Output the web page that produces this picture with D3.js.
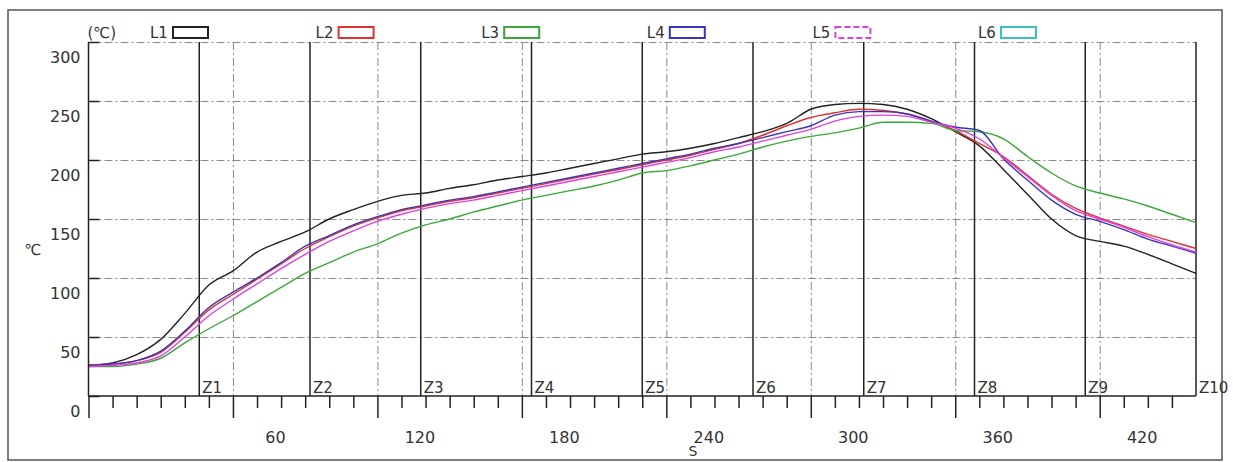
<!DOCTYPE html>
<html>
<head>
<meta charset="utf-8">
<script src="https://cdn.jsdelivr.net/npm/d3@7"></script>
<style>
    body { margin: 0; background: #fff; }
    text { font-family: "DejaVu Sans", sans-serif; fill: #333; }
    .grid line { stroke: #8a8a8a; stroke-width: 1; stroke-dasharray: 8,3,2,3; }
    .grid path { display: none; }
</style>
</head>
<body>
<svg id="chart"></svg>
<script>
// sample times (s)
var seconds = [0, 10, 20, 30, 40, 50, 60, 70, 80, 90, 100, 110, 120, 130, 140, 150, 160, 170, 180, 190,
    200, 210, 220, 230, 240, 250, 260, 270, 280, 290, 300, 310, 320, 330, 340, 350, 360, 370, 380, 390,
    400, 410, 420, 430, 440, 450, 460];

// temperatures (C) per probe
var l1Values = [26, 28, 35, 48, 70, 94, 106, 122, 131, 139, 150, 158, 165, 170, 172, 176, 179, 183, 186, 189,
    193, 197, 201, 205, 207, 210, 214, 219, 224, 231, 243, 247, 248, 247, 243, 235, 224, 212, 192, 171,
    150, 136, 131, 127, 120, 112, 104];
var l2Values = [26, 27, 30, 37, 54, 73, 86, 99, 112, 125, 135, 144, 151, 157, 161, 165, 168, 172, 176, 180,
    184, 188, 192, 196, 200, 204, 209, 214, 221, 229, 236, 240, 243, 242, 239, 233, 225, 214, 203, 187,
    171, 159, 151, 144, 137, 131, 125];
var l3Values = [25, 25, 27, 32, 45, 57, 68, 80, 92, 104, 113, 122, 129, 138, 145, 150, 156, 161, 166, 170,
    174, 178, 183, 189, 191, 195, 200, 205, 211, 216, 220, 223, 227, 232, 232, 231, 225, 224, 218, 203,
    189, 178, 172, 167, 161, 154, 147];
var l4Values = [26, 27, 30, 38, 55, 75, 88, 100, 113, 127, 136, 145, 152, 158, 162, 166, 169, 173, 177, 181,
    185, 189, 193, 197, 201, 205, 210, 214, 219, 224, 229, 238, 241, 241, 239, 233, 228, 225, 201, 183,
    166, 154, 148, 141, 133, 127, 121];
var l5Values = [25, 26, 28, 34, 50, 68, 82, 95, 108, 120, 131, 140, 148, 154, 159, 163, 166, 170, 174, 178,
    182, 186, 190, 194, 198, 202, 207, 211, 216, 221, 226, 233, 237, 238, 237, 232, 227, 218, 202, 186,
    170, 157, 150, 143, 135, 128, 122];
var l6Values = [];

var seriesNames = ['L1', 'L2', 'L3', 'L4', 'L5', 'L6'];
var seriesColors = ['#222222', '#e03030', '#3aa83a', '#3a35b8', '#e040e0', '#3cc0c0'];

// zone boundaries (s) and labels
var zoneEnds = [46, 92, 138, 184, 230, 276, 322, 368, 414, 460];
var zoneLabels = ['Z1', 'Z2', 'Z3', 'Z4', 'Z5', 'Z6', 'Z7', 'Z8', 'Z9', 'Z10'];

// axis ticks
var xMajorTicks = [0, 60, 120, 180, 240, 300, 360, 420];
var xTickLabels = [60, 120, 180, 240, 300, 360, 420];
var yTicks = [0, 50, 100, 150, 200, 250, 300];

function drawProfileChart() {
    var W = 1233, H = 462;
    var svg = d3.select('#chart').attr('width', W).attr('height', H);

    var margin = { top: 42, right: 37, bottom: 66, left: 88.5 };
    var width = W - margin.left - margin.right;
    var height = H - margin.top - margin.bottom;

    // outer frame
    svg.append('rect')
        .attr('x', 8).attr('y', 10)
        .attr('width', 1214).attr('height', 450)
        .attr('fill', 'none')
        .attr('stroke', '#555')
        .attr('stroke-width', 1.5);

    var xScale = d3.scaleLinear().domain([0, 460]).range([0, width]);
    var yScale = d3.scaleLinear().domain([0, 300]).range([height, 0]);

    var g = svg.append('g').attr('transform', 'translate(' + margin.left + ',' + margin.top + ')');

    // dashed grid lines
    g.append('g')
        .attr('class', 'grid')
        .call(d3.axisLeft(yScale).tickValues(yTicks.slice(1)).tickSize(-width).tickFormat(''));
    g.append('g')
        .attr('class', 'grid')
        .attr('transform', 'translate(0,' + height + ')')
        .call(d3.axisBottom(xScale).tickValues(xMajorTicks.slice(1)).tickSize(height).tickFormat(''))
        .selectAll('line').attr('transform', 'translate(0,' + (-height) + ')');

    // zone lines
    g.selectAll('.zone-line')
        .data(zoneEnds)
        .enter()
        .append('line')
        .attr('class', 'zone-line')
        .attr('x1', function (d) { return xScale(d); })
        .attr('x2', function (d) { return xScale(d); })
        .attr('y1', 0)
        .attr('y2', height)
        .attr('stroke', '#222')
        .attr('stroke-width', 1.5);

    g.selectAll('.zone-label')
        .data(zoneEnds)
        .enter()
        .append('text')
        .attr('class', 'zone-label')
        .text(function (d, i) { return zoneLabels[i]; })
        .attr('x', function (d) { return xScale(d) + 3; })
        .attr('y', height - 3)
        .attr('font-size', '15px');

    // curves
    var series = [l1Values, l2Values, l3Values, l4Values, l5Values, l6Values];
    var line = d3.line()
        .x(function (d, i) { return xScale(seconds[i]); })
        .y(function (d) { return yScale(d); })
        .curve(d3.curveMonotoneX);

    series.forEach(function (values, k) {
        if (values.length === 0) return;
        g.append('path')
            .datum(values)
            .attr('fill', 'none')
            .attr('stroke', seriesColors[k])
            .attr('stroke-width', 1.4)
            .attr('d', line);
    });

    // minor x ticks (every 10 s)
    var xMinor = d3.axisBottom(xScale)
        .tickValues(seconds.slice(0, seconds.length - 1).filter(function (d) { return d % 60 !== 0; }))
        .tickSize(12).tickFormat('');
    var gMinor = g.append('g').attr('transform', 'translate(0,' + height + ')').call(xMinor);
    gMinor.select('.domain').remove();
    gMinor.selectAll('line').attr('stroke', '#222').attr('stroke-width', 1.5);

    // major x ticks and labels
    var xAxis = d3.axisBottom(xScale)
        .tickValues(xMajorTicks)
        .tickSize(22)
        .tickFormat(function (d) { return xTickLabels.indexOf(d) >= 0 ? d : ''; });
    var gx = g.append('g').attr('transform', 'translate(0,' + height + ')').call(xAxis);
    gx.select('.domain').attr('stroke', '#222').attr('stroke-width', 1.5).attr('d', 'M0,0H' + width);
    gx.selectAll('line').attr('stroke', '#222').attr('stroke-width', 1.5);
    gx.selectAll('text')
        .attr('x', 42)
        .attr('y', 41)
        .attr('dy', '0.35em')
        .attr('font-size', '16px')
        .attr('fill', '#333');

    // y axis, ticks point inward
    var gy = g.append('g')
        .call(d3.axisLeft(yScale).tickValues(yTicks).tickSize(-11).tickPadding(8));
    gy.select('.domain').attr('stroke', '#222').attr('stroke-width', 1.5).attr('d', 'M0,0V' + height);
    gy.selectAll('line').attr('stroke', '#222').attr('stroke-width', 1.5);
    gy.selectAll('text')
        .attr('dy', '1.25em')
        .attr('font-size', '16px')
        .attr('fill', '#333');

    // titles
    svg.append('text').text('(℃)')
        .attr('x', margin.left - 1).attr('y', 33).attr('dy', '0.35em')
        .attr('font-size', '15px');
    svg.append('text').text('℃')
        .attr('x', 33).attr('y', 250).attr('dy', '0.35em')
        .attr('text-anchor', 'middle')
        .attr('font-size', '15px');
    svg.append('text').text('S')
        .attr('x', 693).attr('y', 451).attr('dy', '0.35em')
        .attr('text-anchor', 'middle')
        .attr('font-size', '14px');

    // legend
    var gLegends = svg.append('g').attr('transform', 'translate(150,27)');
    var items = gLegends.selectAll('g')
        .data(seriesNames)
        .enter()
        .append('g')
        .attr('transform', function (d, i) { return 'translate(' + (i * 165.6) + ',0)'; });
    items.append('text')
        .text(function (d) { return d; })
        .attr('x', 0).attr('y', 6).attr('dy', '0.35em')
        .attr('font-size', '15px');
    items.append('rect')
        .attr('x', 23).attr('y', 0)
        .attr('width', 35).attr('height', 11)
        .attr('fill', 'none')
        .attr('stroke-width', 2)
        .attr('stroke-dasharray', function (d, i) { return i === 4 ? '6,3' : null; })
        .attr('stroke', function (d, i) { return seriesColors[i]; });
}

drawProfileChart();
</script>
</body>
</html>
